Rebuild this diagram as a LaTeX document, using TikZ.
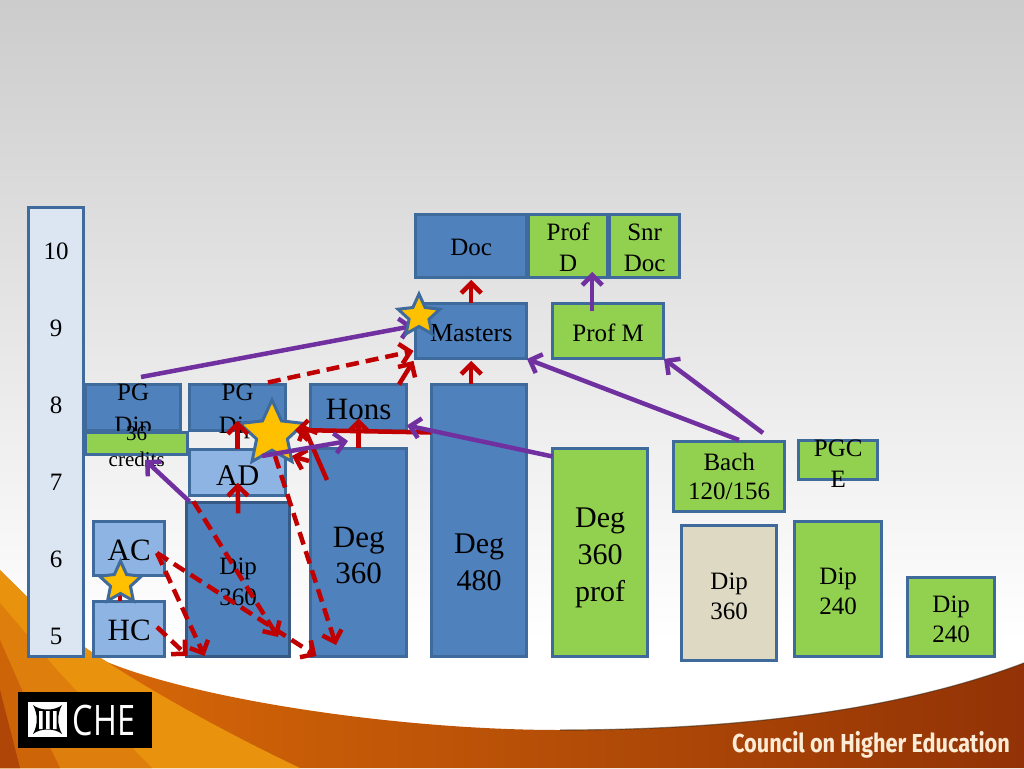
\documentclass[tikz,border=0pt]{standalone}
\usepackage{fontspec}
\setmainfont{Liberation Serif}
\newfontfamily\chefont{Open Sans}
\newfontfamily\cheband{Fira Sans}
\usetikzlibrary{arrows.meta,shapes.geometric}
\definecolor{bdr}{HTML}{3F6A9C}
\definecolor{bluef}{HTML}{4F81BD}
\definecolor{lightb}{HTML}{8EB4E3}
\definecolor{paleb}{HTML}{DCE6F2}
\definecolor{greenf}{HTML}{92D050}
\definecolor{tanf}{HTML}{DDD9C3}
\definecolor{redc}{HTML}{C00000}
\definecolor{purp}{HTML}{7030A0}
\definecolor{starf}{HTML}{FFC000}
\definecolor{swa}{RGB}{222,110,8}
\definecolor{swb}{RGB}{190,84,2}
\definecolor{swc}{RGB}{146,50,6}
\definecolor{wedgea}{RGB}{232,146,14}
\definecolor{wedgeb}{RGB}{222,126,12}
\definecolor{wedgec}{RGB}{205,100,8}
\definecolor{wedged}{RGB}{175,70,8}
\definecolor{bandtxt}{RGB}{252,236,214}
\tikzset{
  x=1pt,y=-1pt,
  bx/.style={draw=bdr,line width=3pt,inner sep=0pt,outer sep=0pt,rectangle},
  bluebox/.style={bx,fill=bluef},
  lightbox/.style={bx,fill=lightb},
  palebox/.style={bx,fill=paleb},
  greenbox/.style={bx,fill=greenf},
  tanbox/.style={bx,fill=tanf},
  darkbox/.style={bx,fill=bluef,draw=bdr!85!black},
  starn/.style={star,star points=5,star point ratio=2.1,draw=bdr,fill=starf,line width=3pt,inner sep=0pt,outer sep=0pt},
  redsolid/.style={draw=redc,line width=4.5pt,-{Straight Barb[length=10pt,width=20pt]}},
  reddash/.style={redsolid,dash pattern=on 13pt off 7pt},
  purparrow/.style={draw=purp,line width=4.5pt,-{Straight Barb[length=10pt,width=20pt]}},
}
% box: style, name, x1,y1,x2,y2, font size, leading, vertical text offset (up); text in \bxtext
\newcommand{\bxn}[9]{%
  \pgfmathsetmacro{\bw}{#5-#3-1.5}\pgfmathsetmacro{\bh}{#6-#4-1.5}%
  \pgfmathsetmacro{\cx}{(#3+#5)/2-.3}\pgfmathsetmacro{\cy}{(#4+#6)/2-.3}%
  \node[#1,minimum width=\bw pt,minimum height=\bh pt] (#2) at (\cx,\cy) {\raisebox{#9pt}[0pt][0pt]{\makebox[0pt]{\parbox[c]{200pt}{\centering\fontsize{#7}{#8}\selectfont\bxtext}}}};}
\newcommand{\bxtext}{}
\newcommand{\mkbox}[1]{\renewcommand{\bxtext}{#1}}
\begin{document}
\begin{tikzpicture}
\useasboundingbox (0,0) rectangle (1024,768);
% background
\shade[top color=black!20,bottom color=white] (0,0) rectangle (1024,640);
\fill[white] (0,640) rectangle (1024,768);
% swoosh
\shade[left color=swa,middle color=swb,right color=swc]
  (0,570) .. controls (40,610) and (70,640) .. (107,662)
  .. controls (200,700) and (400,730) .. (560,730)
  .. controls (740,730) and (900,710) .. (1024,663) -- (1024,768) -- (0,768) -- cycle;
\draw[black!70!brown,opacity=.55,line width=1.2pt] (560,730) .. controls (740,730) and (900,710) .. (1024,663);
\fill[wedgea]
  (0,570) .. controls (40,610) and (70,640) .. (107,662)
  .. controls (150,690) and (220,730) .. (300,768) -- (0,768) -- cycle;
\fill[wedgeb] (0,603) -- (57,670) -- (85,700) -- (152,768) -- (0,768) -- cycle;
\fill[wedgec] (0,640) -- (22,690) -- (60,768) -- (0,768) -- cycle;
\fill[wedged] (0,690) -- (20,768) -- (0,768) -- cycle;
% logo
\node[fill=black,draw=none,inner sep=0pt,minimum width=134pt,minimum height=56pt] (logo) at (85,720) {};
\fill[white] (28,702) rectangle (67,737);
\fill[black] (33,705) .. controls (40,711) and (55,711) .. (62,705) .. controls (57,714) and (57,725) .. (62,734) .. controls (55,728) and (40,728) .. (33,734) .. controls (38,725) and (38,714) .. (33,705) -- cycle;
\fill[white] (39,711) rectangle (42.5,729) (46,711) rectangle (49.5,729) (53,711) rectangle (56.5,729);
\node[text=white,inner sep=0pt,xscale=.77,font=\chefont\fontsize{42}{42}\selectfont] (che) at (104,720) {CHE};
\node[text=bandtxt,inner sep=0pt,xscale=.837,font=\cheband\bfseries\fontsize{26}{26}\selectfont] (council) at (871,745) {Council on Higher Education};
% boxes
\mkbox{10\\[52pt]9\\[52pt]8\\[52pt]7\\[52pt]6\\[52pt]5}
\bxn{palebox}{levels}{28}{207}{85}{658}{25}{25}{-14}
\mkbox{PG\\Dip}\bxn{bluebox}{pgone}{85}{384}{182}{432}{25}{33}{-6}
\mkbox{PG\\Dip}\bxn{bluebox}{pgtwo}{189}{384}{287}{432}{25}{33}{-6}
\mkbox{36\\credits}\bxn{greenbox}{credits}{85}{432}{189}{456}{21}{26}{-5.5}
\mkbox{AD}\bxn{lightbox}{ad}{189}{449}{287}{497}{30}{32}{-5}
\mkbox{Dip\\360}\bxn{darkbox}{dip}{186}{502}{291}{658}{25}{31}{-5}
\mkbox{AC}\bxn{lightbox}{ac}{93}{521}{166}{577}{31}{32}{-4}
\mkbox{HC}\bxn{lightbox}{hc}{93}{601}{166}{658}{31}{32}{-4}
\mkbox{Hons}\bxn{bluebox}{hons}{310}{384}{408}{432}{31}{32}{-4}
\mkbox{Deg\\360}\bxn{bluebox}{degthree}{310}{448}{408}{658}{31}{36}{-5}
\mkbox{Deg\\480}\bxn{bluebox}{degfour}{431}{384}{528}{658}{30}{37}{-44}
\mkbox{Deg\\360\\prof}\bxn{greenbox}{degprof}{552}{448}{649}{658}{30}{37}{-8}
\mkbox{Bach\\120/156}\bxn{greenbox}{bach}{673}{441}{786}{513}{25}{29}{-2.5}
\mkbox{PGC\\E}\bxn{greenbox}{pgce}{798}{440}{879}{481}{25}{31}{-6}
\mkbox{Dip\\360}\bxn{tanbox}{diptan}{681}{525}{778}{662}{25}{30}{-6}
\mkbox{Dip\\240}\bxn{greenbox}{dipa}{794}{521}{883}{658}{25}{30}{-5}
\mkbox{Dip\\240}\bxn{greenbox}{dipb}{907}{577}{996}{658}{25}{30}{-5}
\mkbox{Doc}\bxn{bluebox}{doc}{415}{214}{528}{279}{25}{30}{-4}
\mkbox{Prof\\D}\bxn{greenbox}{profd}{528}{214}{609}{279}{25}{31}{-4}
\mkbox{Snr\\Doc}\bxn{greenbox}{snr}{609}{214}{681}{279}{25}{31}{-4}
\mkbox{Masters}\bxn{bluebox}{masters}{415}{303}{528}{360}{26}{30}{-4}
\mkbox{Prof M}\bxn{greenbox}{profm}{552}{303}{665}{360}{25}{30}{-4}
% free ends
\coordinate (acout) at (157,553);
\coordinate (hcout) at (157,627);
\coordinate (dipend) at (278,637);
\coordinate (starend) at (336,645);
\coordinate (starout) at (275,456);
\coordinate (redfoot) at (327,480);
\coordinate (pgstart) at (141,377);
\coordinate (dashfoot) at (309,461);
\coordinate (dashhead) at (292,456);
\coordinate (bachleft) at (739,440);
\coordinate (bachright) at (763,433);
\coordinate (mastarrow) at (413,326);
\coordinate (creditend) at (145,460);
\coordinate (purpend) at (348,441);
\coordinate (purpstart) at (262,456);
% large star below the red connectors
\node[starn,minimum size=68pt] (startwo) at (272,434) {};
% red solid
\draw[redsolid] ([xshift=-9pt]hc.north) -- ([xshift=-9pt,yshift=-8pt]ac.south);
\draw[redsolid] ([yshift=-11pt]dip.north) -- ([yshift=-10pt]ad.center);
\draw[redsolid] (ad.north) -- ([yshift=-13pt]pgtwo.center);
\draw[redsolid] (degthree.north) -- ([yshift=-34pt]hons.north);
\draw[redsolid] ([xshift=-8pt]hons.north east) -- ([xshift=-2pt,yshift=-2pt]masters.south west);
\draw[redsolid] ([xshift=-8pt]degfour.north) -- ([yshift=-2pt]masters.south);
\draw[redsolid] (masters.north) -- ([yshift=-2pt]doc.south);
\draw[redsolid] ([yshift=-48pt]degfour.north west) -- ([xshift=23pt,yshift=4pt]startwo.center);
\draw[redsolid] (redfoot) -- ([xshift=31pt,yshift=9pt]startwo.center);
% red dashed
\draw[reddash] ([xshift=-18pt,yshift=2pt]pgtwo.north east) -- ([xshift=-2pt,yshift=8pt]masters.south west);
\draw[reddash] (acout) -- ([xshift=18pt,yshift=1pt]dip.south west);
\draw[reddash] (acout) -- ([xshift=6pt,yshift=1pt]degthree.south west);
\draw[reddash] (hcout) -- ([xshift=1pt,yshift=1pt]dip.south west);
\draw[reddash] ([xshift=7pt,yshift=1pt]dip.north west) -- (dipend);
\draw[reddash] (starout) -- (starend);
\draw[reddash] (dashfoot) -- (dashhead);
% purple
\draw[purparrow] (pgstart) -- (mastarrow);
\draw[purparrow] ([yshift=-8pt]degprof.north west) -- ([yshift=-41pt]hons.north east);
\draw[purparrow] (bachleft) -- (masters.south east);
\draw[purparrow] (bachright) -- (profm.south east);
\draw[purparrow] ([xshift=-16pt,yshift=-8pt]profm.north) -- ([xshift=24pt,yshift=6pt]profd.south);
\draw[purparrow] (purpstart) -- (purpend);
\draw[purparrow] ([xshift=3pt,yshift=1pt]dip.north west) -- (creditend);
% small stars on top
\node[starn,minimum size=44pt] (starone) at (120.5,583) {};
\node[starn,minimum size=44pt] (starthree) at (419,316) {};
\end{tikzpicture}
\end{document}
